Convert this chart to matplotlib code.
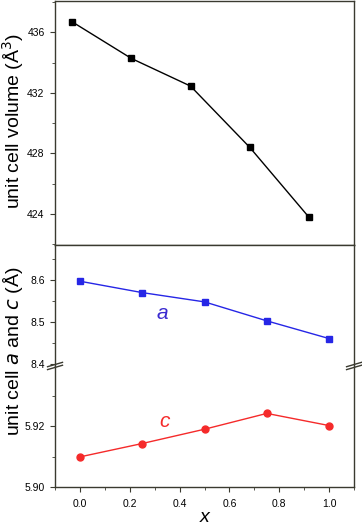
import matplotlib.pyplot as plt
import numpy as np
from matplotlib.ticker import MultipleLocator

x = np.array([0.0, 0.25, 0.5, 0.75, 1.0])
volume = np.array([436.70, 434.28, 432.45, 428.40, 423.78])
a_param = np.array([8.597, 8.570, 8.548, 8.503, 8.461])
c_param = np.array([5.9099, 5.9143, 5.9190, 5.9242, 5.9202])

spine_c = '#3a3a30'
fig = plt.figure(figsize=(3.62, 5.25), dpi=100)
plt.rcParams['font.family'] = ['Liberation Sans', 'DejaVu Sans']

ax_v = fig.add_axes([0.152, 0.5333, 0.826, 0.4647])
ax_a = fig.add_axes([0.152, 0.3029, 0.826, 0.2305])
ax_c = fig.add_axes([0.152, 0.0724, 0.826, 0.2305])

for ax in (ax_v, ax_a, ax_c):
    for s in ax.spines.values():
        s.set_color(spine_c)
        s.set_linewidth(1.0)
    ax.tick_params(which='both', direction='out', color=spine_c, labelsize=7.5, right=False, top=False)
    ax.tick_params(axis='y', which='major', length=3.5, pad=4)
    ax.tick_params(axis='x', which='major', length=3.5, pad=5)
    ax.tick_params(which='minor', length=2.2)

# top: volume
ax_v.plot(x, volume, c='k', lw=1, marker='s', ms=4.5)
ax_v.set_xlim(-0.072, 1.19)
ax_v.set_ylim(421.95, 438.07)
ax_v.yaxis.set_major_locator(MultipleLocator(4))
ax_v.yaxis.set_minor_locator(MultipleLocator(2))
ax_v.set_xticks([])

# bottom: a and c with broken axis
ax_a.plot(x, a_param, c='#2626e6', lw=1, marker='s', ms=4.5)
ax_c.plot(x, c_param, c='#f52a2a', lw=1, marker='o', ms=5)
for ax in (ax_a, ax_c):
    ax.set_xlim(-0.1, 1.1)
ax_a.set_ylim(8.396, 8.683)
ax_c.set_ylim(5.90, 5.9398)
ax_a.set_yticks([8.4, 8.5, 8.6])
ax_a.set_yticklabels(['8.4', '8.5', '8.6'])
ax_a.yaxis.set_minor_locator(MultipleLocator(0.05))
ax_c.set_yticks([5.90, 5.92])
ax_c.set_yticklabels(['5.90', '5.92'])
ax_c.yaxis.set_minor_locator(MultipleLocator(0.01))
ax_a.set_xticks([])
ax_a.spines['bottom'].set_visible(False)
ax_c.spines['top'].set_visible(False)
ax_c.set_xticks([0.0, 0.2, 0.4, 0.6, 0.8, 1.0])
ax_c.set_xticklabels(['0.0', '0.2', '0.4', '0.6', '0.8', '1.0'])
ax_c.xaxis.set_minor_locator(MultipleLocator(0.1))
ax_c.set_xlabel('x', fontsize=14, style='italic', labelpad=0)

# break marks
for xb in (0.0, 1.0):
    for dy in (-0.012, 0.012):
        ax_c.plot([xb - 0.025, xb + 0.025], [1.0 + dy - 0.018, 1.0 + dy + 0.018],
                  transform=ax_c.transAxes, c=spine_c, lw=1, clip_on=False)

ax_a.text(0.33, 8.52, 'a', color='#3a2ad0', fontsize=15, style='italic', ha='center', va='center')
ax_c.text(0.34, 5.9216, 'c', color='#f52a2a', fontsize=15, style='italic', ha='center', va='center')

fig.text(0.036, 0.77, 'unit cell volume (Å$^3$)', rotation=90, fontsize=14, ha='center', va='center')
fig.text(0.036, 0.331, r'unit cell $a$ and $c$ (Å)', rotation=90, fontsize=14, ha='center', va='center')

plt.savefig('out.png', dpi=100)
